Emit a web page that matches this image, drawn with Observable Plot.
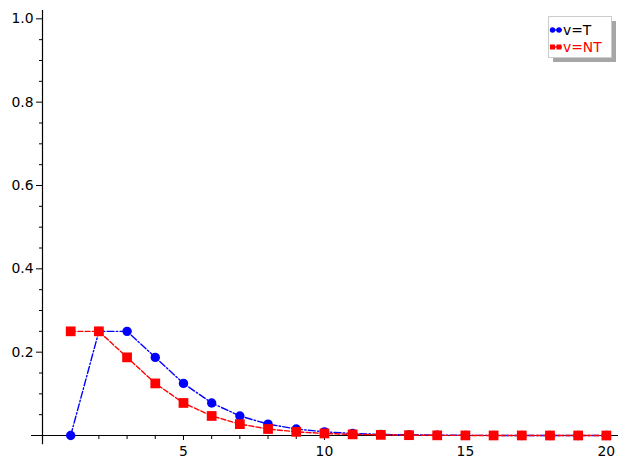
<!DOCTYPE html>
<html>
<head>
<meta charset="utf-8">
<script src="https://cdn.jsdelivr.net/npm/d3@7"></script>
<script src="https://cdn.jsdelivr.net/npm/@observablehq/plot@0.6"></script>
<style>
  html, body { margin: 0; padding: 0; background: #fff; }
  #chart { position: relative; width: 628px; height: 468px; }
  #chart svg text { font-family: "DejaVu Sans", sans-serif; font-size: 13.9px; }
</style>
</head>
<body>
<div id="chart"></div>
<script>
const xValues = [1, 2, 3, 4, 5, 6, 7, 8, 9, 10, 11, 12, 13, 14, 15, 16, 17, 18, 19, 20];
const seriesT = [0, 0.25, 0.25, 0.1875, 0.125, 0.0781, 0.0469, 0.0273, 0.0156, 0.0088, 0.0049, 0.0027, 0.0015, 0.0008, 0.0004, 0.0002, 0.0001, 0.0001, 0.0, 0.0];
const seriesNT = [0.25, 0.25, 0.1875, 0.125, 0.0781, 0.0469, 0.0273, 0.0156, 0.0088, 0.0049, 0.0027, 0.0015, 0.0008, 0.0004, 0.0002, 0.0001, 0.0001, 0.0, 0.0, 0.0];
const seriesNames = ["v=T", "v=NT"];
const seriesColors = ["blue", "red"];
const xMajorTicks = [5, 10, 15, 20];
const xMinorTicks = [1, 2, 3, 4, 6, 7, 8, 9, 11, 12, 13, 14, 16, 17, 18, 19];
const yMajorTicks = [0.2, 0.4, 0.6, 0.8, 1.0];
const yMinorTicks = [0.05, 0.1, 0.15, 0.25, 0.3, 0.35, 0.45, 0.5, 0.55, 0.65, 0.7, 0.75, 0.85, 0.9, 0.95];

const dataT = xValues.map((x, i) => ({x, y: seriesT[i]}));
const dataNT = xValues.map((x, i) => ({x, y: seriesNT[i]}));

const plot = Plot.plot({
  width: 628,
  height: 468,
  marginLeft: 42,
  marginRight: 10,
  marginTop: 10,
  marginBottom: 33,
  style: {fontFamily: "DejaVu Sans, sans-serif", fontSize: "13.9px", color: "black", background: "white"},
  x: {domain: [0, 20.43], label: null},
  y: {domain: [0, 1.02], label: null},
  marks: [
    Plot.axisX(xMinorTicks, {anchor: "bottom", tickSize: 4, text: null, label: null, strokeWidth: 1}),
    Plot.axisX(xMajorTicks, {anchor: "bottom", tickSize: 5, tickPadding: 6, fontSize: 13.9, label: null, strokeWidth: 1}),
    Plot.axisY(yMinorTicks, {anchor: "left", tickSize: 3, text: null, label: null, strokeWidth: 1}),
    Plot.axisY(yMajorTicks, {anchor: "left", tickSize: 6, tickPadding: 3, fontSize: 13.9, label: null, tickFormat: d3.format(".1f"), strokeWidth: 1}),
    Plot.ruleY([0], {x1: -0.39, x2: 20.43, stroke: "black", strokeWidth: 1.2}),
    Plot.ruleX([0], {y1: -0.022, y2: 1.02, stroke: "black", strokeWidth: 1.2}),
    Plot.line(dataT, {x: "x", y: "y", stroke: seriesColors[0], strokeWidth: 1.4, strokeDasharray: "7,2.2,1.5,2.2"}),
    Plot.dot(dataT, {x: "x", y: "y", r: 4.7, fill: seriesColors[0], stroke: "none"}),
    Plot.line(dataNT, {x: "x", y: "y", stroke: seriesColors[1], strokeWidth: 1.4, strokeDasharray: "5,2.2"}),
    Plot.dot(dataNT, {x: "x", y: "y", symbol: "square", r: 5.5, fill: seriesColors[1], stroke: "none"})
  ]
});

document.getElementById("chart").appendChild(plot);

// Legend drawn inside the plot SVG (upper right)
const svg = d3.select(plot);
const lg = svg.append("g").attr("transform", "translate(548,16)").attr("text-anchor", "start");
lg.append("rect").attr("x", 5).attr("y", 5).attr("width", 63).attr("height", 41).attr("fill", "#a6a6a6");
lg.append("rect").attr("x", 0.5).attr("y", 0.5).attr("width", 63).attr("height", 41).attr("fill", "white").attr("stroke", "#cccccc").attr("stroke-width", 1);
seriesNames.forEach((name, i) => {
  const cy = 14 + i * 17;
  const g = lg.append("g");
  g.append("line").attr("x1", 2).attr("x2", 14).attr("y1", cy).attr("y2", cy).attr("stroke", seriesColors[i]).attr("stroke-width", 1.4);
  [4.5, 11].forEach(cx => {
    if (i === 0) g.append("circle").attr("cx", cx).attr("cy", cy).attr("r", 2.7).attr("fill", seriesColors[i]);
    else g.append("rect").attr("x", cx - 2.5).attr("y", cy - 2.5).attr("width", 5).attr("height", 5).attr("fill", seriesColors[i]);
  });
  g.append("text").attr("x", 15).attr("y", cy).attr("dy", "0.36em")
    .attr("text-anchor", "start")
    .attr("fill", i === 0 ? "black" : seriesColors[i]).text(name);
});
</script>
</body>
</html>
